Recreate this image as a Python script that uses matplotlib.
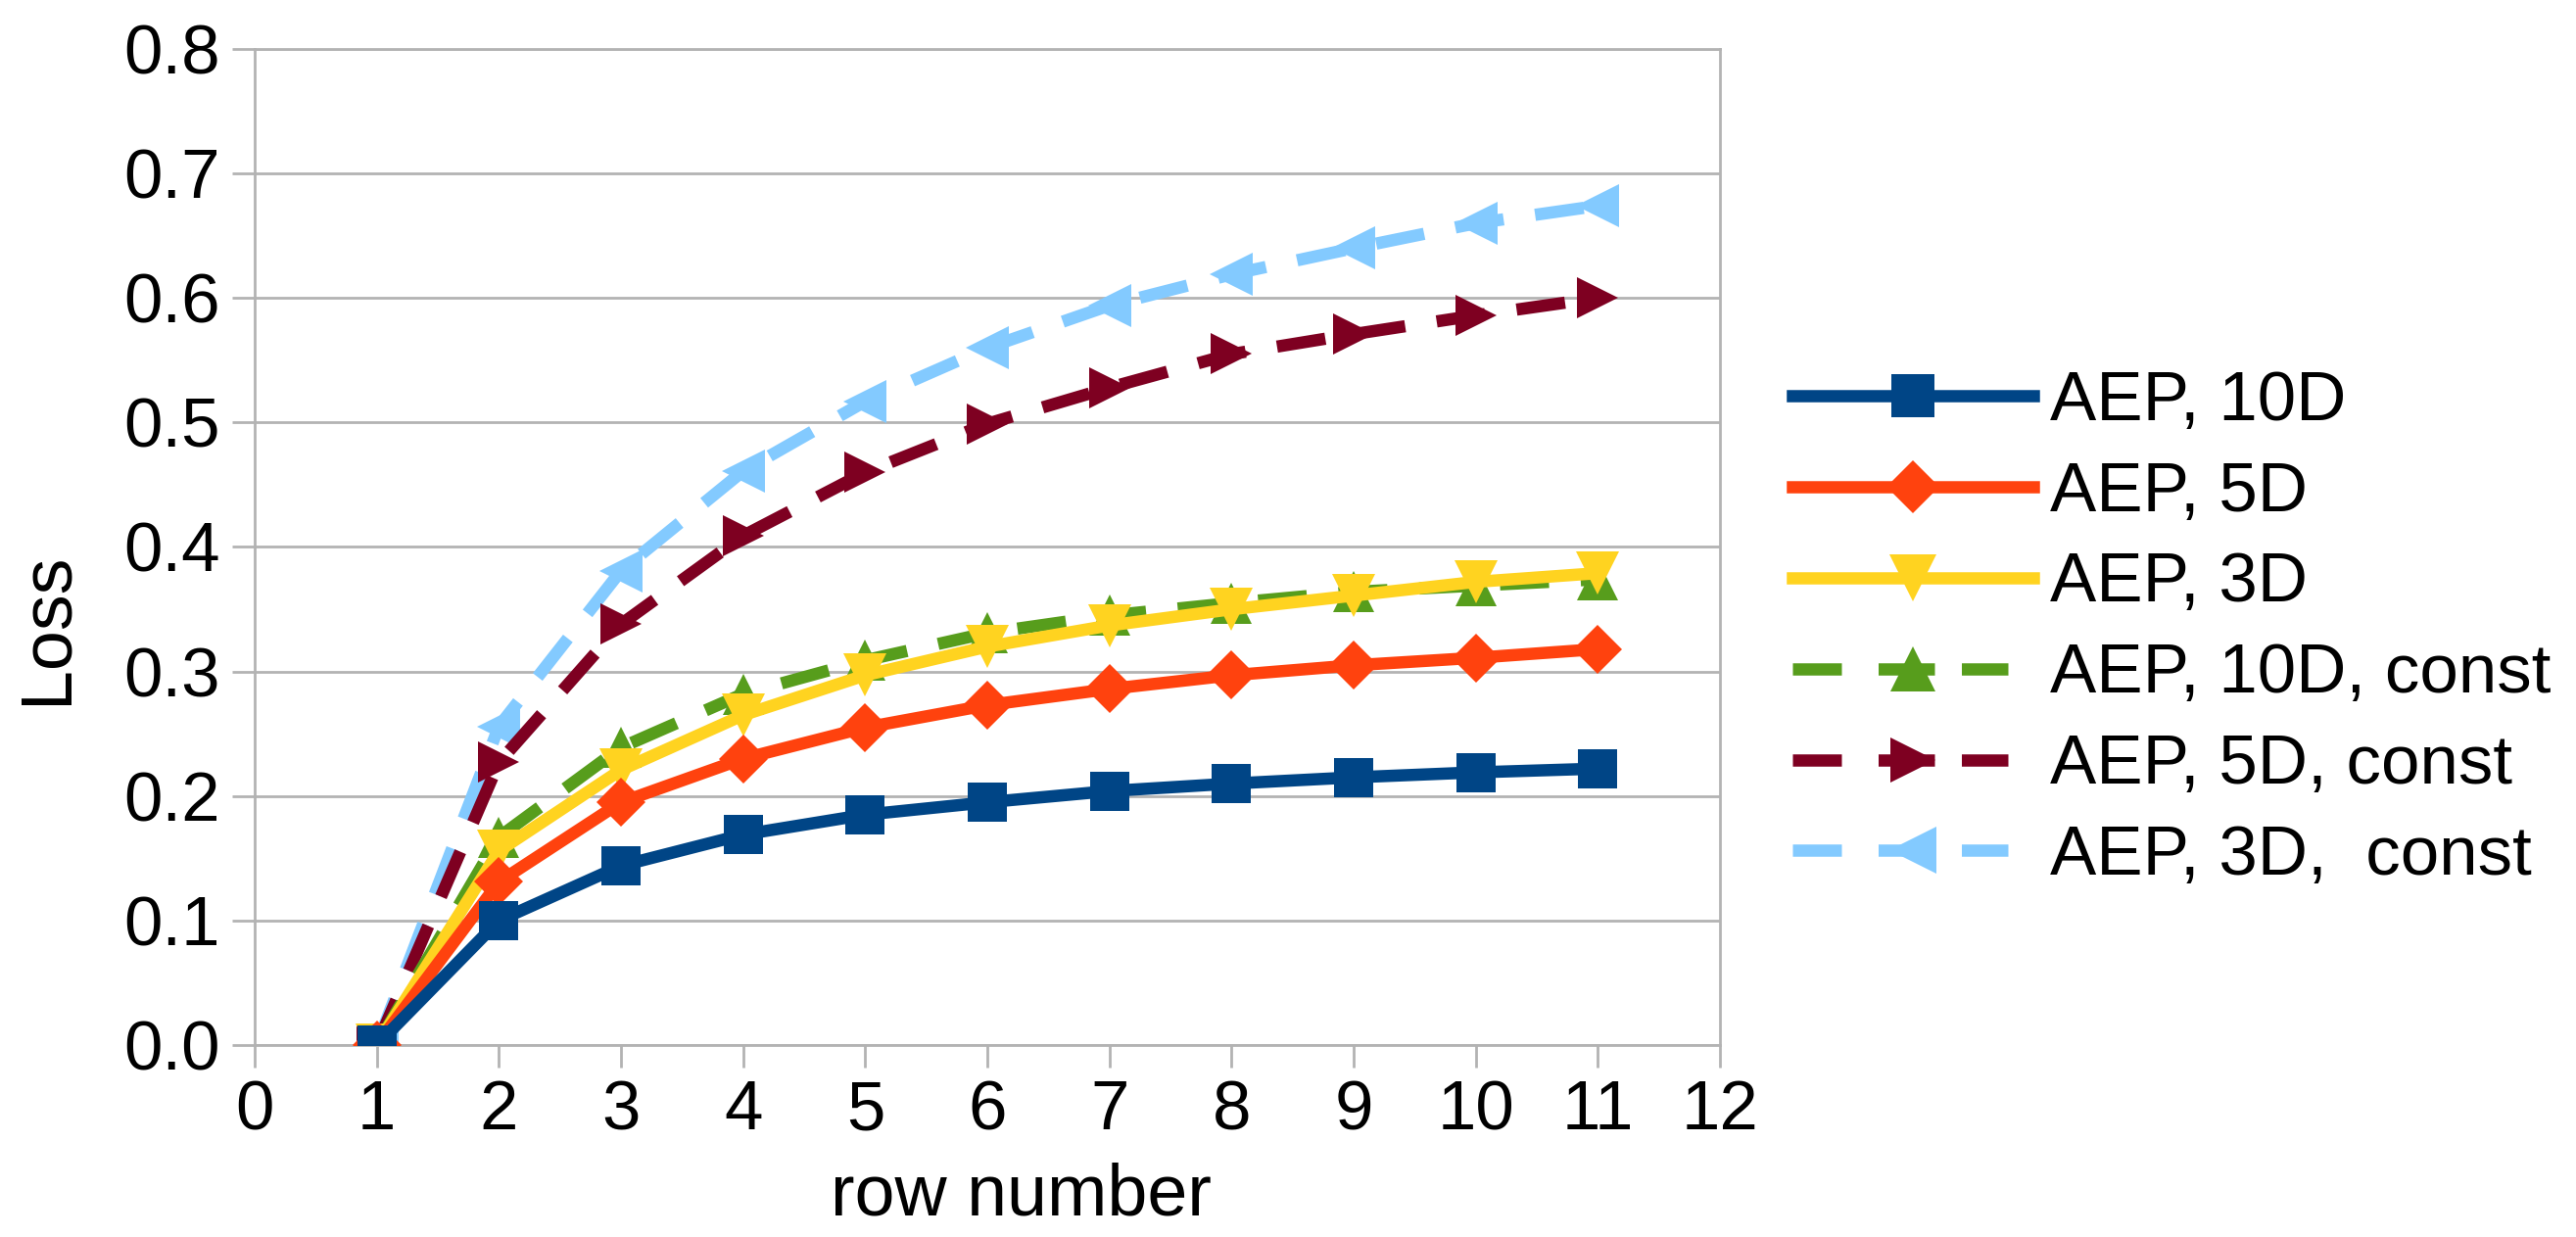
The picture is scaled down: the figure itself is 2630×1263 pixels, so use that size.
import matplotlib
matplotlib.use("Agg")
import matplotlib.pyplot as plt
from matplotlib.ticker import FormatStrFormatter

plt.rcParams['font.family'] = ['Liberation Sans', 'DejaVu Sans']

# Loss per row
rows = [1, 2, 3, 4, 5, 6, 7, 8, 9, 10, 11]
aep_10d = [0.0, 0.100, 0.144, 0.169, 0.185, 0.195, 0.204, 0.210, 0.215, 0.219, 0.222]
aep_5d = [0.0, 0.131, 0.195, 0.230, 0.255, 0.273, 0.286, 0.297, 0.305, 0.311, 0.318]
aep_3d = [0.0, 0.156, 0.221, 0.265, 0.297, 0.320, 0.337, 0.350, 0.361, 0.372, 0.379]
aep_10d_const = [0.0, 0.167, 0.239, 0.282, 0.309, 0.331, 0.345, 0.355, 0.364, 0.369, 0.374]
aep_5d_const = [0.0, 0.227, 0.338, 0.409, 0.460, 0.499, 0.528, 0.555, 0.571, 0.586, 0.600]
aep_3d_const = [0.0, 0.256, 0.381, 0.461, 0.517, 0.560, 0.594, 0.619, 0.640, 0.660, 0.674]

labels = ['AEP, 10D', 'AEP, 5D', 'AEP, 3D',
          'AEP, 10D, const', 'AEP, 5D, const', 'AEP, 3D,  const']
series = [aep_10d, aep_5d, aep_3d, aep_10d_const, aep_5d_const, aep_3d_const]
colors = ['#004586', '#ff420e', '#ffd320', '#579d1c', '#7e0021', '#83caff']
markers = ['s', 'D', 'v', '^', '>', '<']
msizes = [29, 25, 31, 30, 30, 31]
dashed = [False, False, False, True, True, True]

fig = plt.figure(figsize=(26.3, 12.63), dpi=100)
ax = fig.add_axes([0.0989, 0.1552, 0.5688, 0.8052])

grid_col = '#b3b3b3'
for i, (y, lab) in enumerate(zip(series, labels)):
    ls = (0, (4.0, 2.6)) if dashed[i] else '-'
    ax.plot(rows, y, color=colors[i], linestyle=ls, linewidth=9,
            marker=markers[i], markersize=msizes[i], markeredgewidth=0,
            label=lab, zorder=10 - i, solid_joinstyle='miter')

ax.set_xlim(0, 12)
ax.set_ylim(0, 0.8)
ax.set_xticks(range(0, 13))
ax.set_yticks([i / 10 for i in range(9)])
ax.yaxis.set_major_formatter(FormatStrFormatter('%.1f'))
ax.grid(axis='y', color=grid_col, linewidth=2)
ax.set_axisbelow(True)
for s in ax.spines.values():
    s.set_color(grid_col)
    s.set_linewidth(2)
ax.tick_params(axis='both', colors=grid_col, length=16.5, width=2,
               labelsize=51, labelcolor='black', direction='out')
ax.tick_params(axis='y', pad=9)
ax.tick_params(axis='x', pad=9)

ax.set_xlabel('row number', fontsize=53)
ax.xaxis.set_label_coords(0.523, -0.151)
ax.xaxis.label.set_va('center')
ax.set_ylabel('Loss', fontsize=53)
ax.yaxis.set_label_coords(-0.142, 0.419)
ax.yaxis.label.set_va('center')

leg = fig.legend(loc='upper left', bbox_to_anchor=(0.696, 0.701), frameon=False,
                 fontsize=51, handlelength=3.46, handletextpad=0.24,
                 labelspacing=0.38, borderpad=0, borderaxespad=0)
# legend keys: dash, gap, marker, gap, dash like the original
for i, line in enumerate(leg.get_lines()):
    line.set_markersize(msizes[i] + 3)
    if dashed[i]:
        line.set_dashes([4.0, 3.0, 4.6, 2.2, 3.8, 10])

fig.savefig('out.png', dpi=100)
